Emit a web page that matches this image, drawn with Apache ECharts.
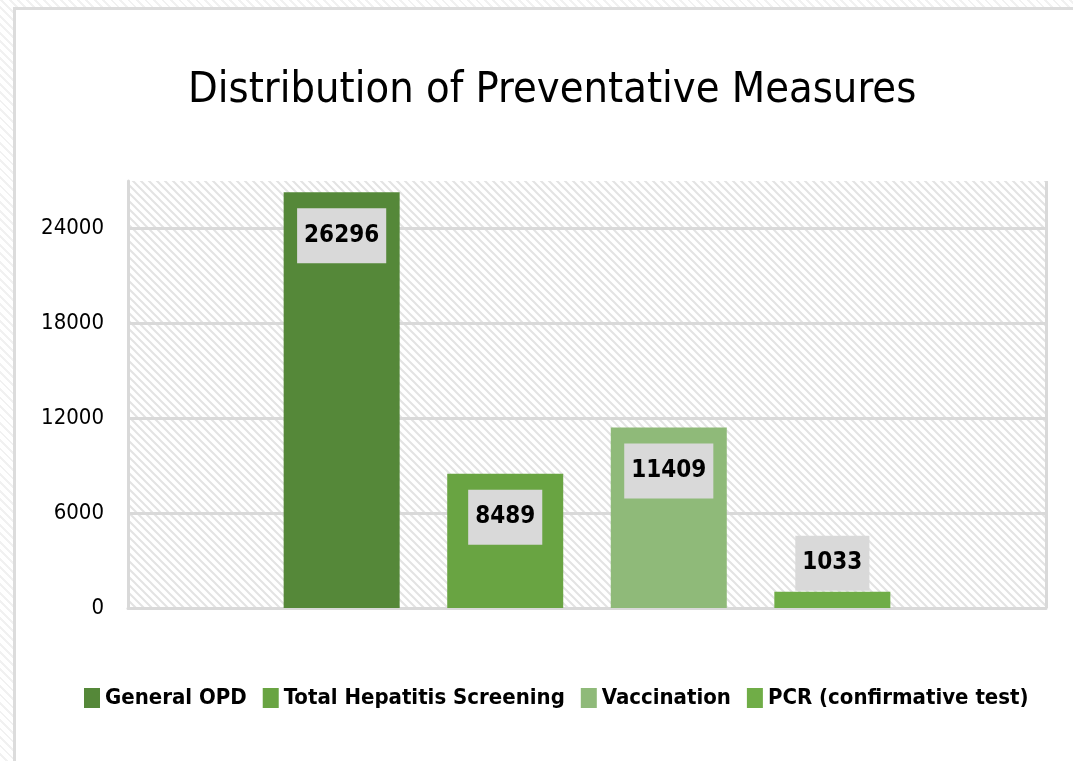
<!DOCTYPE html>
<html>
<head>
<meta charset="utf-8">
<script src="https://cdn.jsdelivr.net/npm/echarts@6/dist/echarts.min.js"></script>
<style>
    html, body { margin: 0; padding: 0; }
    body {
        width: 1073px; height: 761px; overflow: hidden; position: relative;
        background: repeating-linear-gradient(45deg, #ffffff 0 4px, #f1f1f1 4px 6px);
    }
    #frame {
        position: absolute; left: 13px; top: 7px; width: 1100px; height: 800px;
        background: #ffffff; border: 3px solid #dcdcdc;
    }
    #chart { position: absolute; left: 0; top: 0; width: 1073px; height: 761px; }
</style>
</head>
<body>
<div id="frame"></div>
<div id="chart"></div>
<script>
    let title = 'Distribution of Preventative Measures';
    let names = ['General OPD', 'Total Hepatitis Screening', 'Vaccination', 'PCR (confirmative test)'];
    let values = [26296, 8489, 11409, 1033];
    let colors = ['#558839', '#69a442', '#8fba79', '#70ad47'];
    let yMax = 27000;
    let yStep = 6000;

    let font = '"Liberation Sans Narrow", "DejaVu Sans Condensed", sans-serif';

    // hatched fill for the plot area
    function hatch() {
        let c = document.createElement('canvas');
        c.width = 8;
        c.height = 8;
        let ctx = c.getContext('2d');
        ctx.fillStyle = '#ffffff';
        ctx.fillRect(0, 0, 8, 8);
        ctx.strokeStyle = '#e3e3e3';
        ctx.lineWidth = 2;
        ctx.beginPath();
        ctx.moveTo(-2, -2); ctx.lineTo(10, 10);
        ctx.moveTo(-10, -2); ctx.lineTo(2, 10);
        ctx.moveTo(6, -2); ctx.lineTo(18, 10);
        ctx.stroke();
        return c;
    }

    let series = [];
    for (let i = 0; i < names.length; i++) {
        let small = values[i] < 3000;
        series.push({
            name: names[i],
            type: 'bar',
            data: [values[i]],
            barWidth: 116,
            barGap: '41%',
            itemStyle: { color: colors[i] },
            label: {
                show: true,
                position: small ? 'top' : 'insideTop',
                distance: small ? 1 : 16,
                fontFamily: font,
                fontSize: 24,
                fontWeight: 'bold',
                color: '#000000',
                lineHeight: 25,
                backgroundColor: '#d9d9d9',
                padding: [15, 7]
            }
        });
    }

    let chart = echarts.init(document.getElementById('chart'));

    chart.setOption({
        animation: false,
        title: {
            text: title,
            left: 183,
            top: 64,
            textStyle: {
                fontFamily: font,
                fontSize: 43,
                fontWeight: 'normal',
                color: '#000000'
            }
        },
        legend: {
            left: 84,
            top: 687,
            width: 1000,
            itemWidth: 16,
            itemHeight: 20,
            itemGap: 16,
            icon: 'rect',
            padding: 0,
            data: names,
            textStyle: {
                fontFamily: font,
                fontSize: 22,
                fontWeight: 'bold',
                color: '#000000'
            }
        },
        grid: {
            left: 128,
            right: 27,
            top: 181,
            bottom: 153,
            show: true,
            borderWidth: 0,
            backgroundColor: { image: hatch(), repeat: 'repeat' }
        },
        xAxis: {
            type: 'category',
            data: [''],
            axisLine: { show: true, lineStyle: { color: '#d9d9d9', width: 3 } },
            axisTick: { show: false },
            axisLabel: { show: false },
            splitLine: { show: true, lineStyle: { color: '#d9d9d9', width: 3 } }
        },
        yAxis: {
            type: 'value',
            min: 0,
            max: yMax,
            interval: yStep,
            axisLine: { show: true, lineStyle: { color: '#d9d9d9', width: 3 } },
            axisTick: { show: false },
            axisLabel: {
                showMaxLabel: false,
                margin: 24,
                padding: [8, 0, 0, 0],
                fontFamily: font,
                fontSize: 22,
                color: '#000000',
                formatter: function (v) { return String(v); }
            },
            splitLine: {
                show: true,
                showMaxLine: false,
                lineStyle: { color: '#d9d9d9', width: 3 }
            }
        },
        series: series
    });
</script>
</body>
</html>
